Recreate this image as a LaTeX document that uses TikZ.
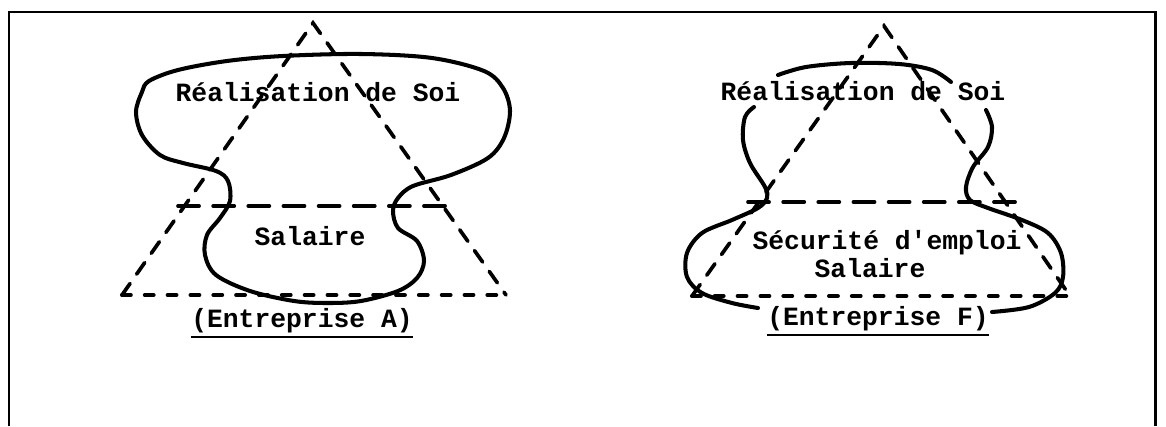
\documentclass[tikz,border=0pt]{standalone}
\usepackage{fontspec}
\setmonofont{Liberation Mono}
\begin{document}
\begin{tikzpicture}[x=0.02cm,y=-0.02cm,
  lbl/.style={font=\ttfamily\bfseries\fontsize{15}{18}\selectfont,inner sep=0pt,anchor=base},
  tri/.style={line width=2.1pt,dash pattern=on 8pt off 6.5pt,line cap=round},
  midline/.style={line width=2.1pt,dash pattern=on 12pt off 8pt,line cap=round},
  bottomline/.style={line width=2.3pt,dash pattern=on 5pt off 8pt,line cap=round},
  blob/.style={line width=2.3pt,line cap=round,line join=round},
  ul/.style={line width=1.6pt}]
  \useasboundingbox (0,0) rectangle (1166,426);
  % frame, open at the bottom
  \draw[line width=1.7pt] (9,426) -- (9,12) -- (1155,12) -- (1155,426);

  % Entreprise A
  \coordinate (topA) at (313,23);
  \coordinate (leftA) at (122,295);
  \coordinate (rightA) at (506,295);
  \draw[tri] (leftA) -- (topA) -- (rightA);
  \draw[bottomline] (leftA) -- (rightA);
  \draw[midline] (178,206) -- (450,206);
  \draw[blob] plot[smooth cycle,tension=0.55] coordinates {
    (149,81) (178,70) (227,61) (283,56) (361,54) (432,58) (484,71) (503,88)
    (510,111) (504,138) (488,158) (451,175) (413,186) (398,198) (393,211)
    (398,228) (417,241) (424,261) (417,278) (398,291) (361,301) (328,303)
    (294,301) (250,291) (216,275) (205,255) (207,235) (220,218) (230,201)
    (228,181) (216,171) (183,163) (160,155) (142,135) (136,112) (142,92)};
  \node[lbl] (realA) at (318,101) {Réalisation de Soi};
  \node[lbl] (salA) at (310,245) {Salaire};
  \node[lbl] (entA) at (302,327) {(Entreprise A)};
  \draw[ul] ([yshift=-10*0.02cm]entA.base west) -- ([yshift=-10*0.02cm]entA.base east);

  % Entreprise F
  \coordinate (topF) at (884,26);
  \coordinate (leftF) at (692,296);
  \coordinate (rightF) at (1070,296);
  \draw[tri] (leftF) -- (topF) -- (rightF);
  \draw[bottomline] (leftF) -- (rightF);
  \draw[midline] (748,202) -- (1027,202);
  \draw[blob] plot[smooth,tension=0.55] coordinates {
    (778,75) (806,67) (851,63) (899,64) (932,70) (951,82)};
  \draw[blob] plot[smooth,tension=0.55] coordinates {
    (754,107) (745,117) (743,140) (750,163) (765,187) (767,198) (758,208)
    (732,220) (702,233) (687,253) (687,277) (702,293) (732,303) (758,308)};
  \draw[blob] plot[smooth,tension=0.55] coordinates {
    (986,110) (992,127) (988,147) (973,167) (966,187) (970,200) (988,208)
    (1022,220) (1048,233) (1061,253) (1063,277) (1055,293) (1029,307) (992,312)};
  \node[lbl] (realF) at (863,100) {Réalisation de Soi};
  \node[lbl] (secF) at (887,249) {Sécurité d'emploi};
  \node[lbl] (salF) at (870,277) {Salaire};
  \node[lbl] (entF) at (878,325) {(Entreprise F)};
  \draw[ul] ([yshift=-10*0.02cm]entF.base west) -- ([yshift=-10*0.02cm]entF.base east);
\end{tikzpicture}
\end{document}
